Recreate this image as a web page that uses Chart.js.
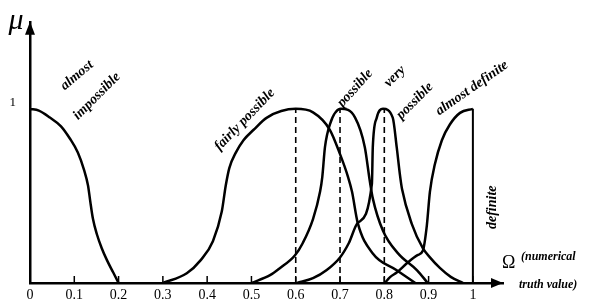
<!DOCTYPE html>
<html>
<head>
<meta charset="utf-8">
<script src="https://cdn.jsdelivr.net/npm/chart.js@4/dist/chart.umd.min.js"></script>
<style>
  html, body { margin: 0; padding: 0; background: #fff; }
  #c { display: block; }
</style>
</head>
<body>
<canvas id="c" width="593" height="306"></canvas>
<script>
// ---- data ----
const xTicks = [0, 0.1, 0.2, 0.3, 0.4, 0.5, 0.6, 0.7, 0.8, 0.9, 1];
const xTickLabels = ['0', '0.1', '0.2', '0.3', '0.4', '0.5', '0.6', '0.7', '0.8', '0.9', '1'];
const yTicks = [1];
const yTickLabels = ['1'];

const almostImpossibleX = [0, 0.02, 0.045, 0.07, 0.09, 0.108, 0.122, 0.131, 0.136, 0.142, 0.151, 0.162, 0.174, 0.188, 0.2];
const almostImpossibleY = [1, 0.99, 0.95, 0.9, 0.83, 0.75, 0.65, 0.56, 0.47, 0.37, 0.28, 0.2, 0.13, 0.06, 0];

const fairlyPossibleX = [0.3, 0.354, 0.385, 0.413, 0.433, 0.442, 0.45, 0.465, 0.482, 0.505, 0.535, 0.6, 0.639, 0.677, 0.7, 0.718, 0.727, 0.74, 0.774, 0.828, 0.87];
const fairlyPossibleY = [0, 0.056, 0.13, 0.24, 0.41, 0.56, 0.66, 0.75, 0.82, 0.88, 0.95, 1, 0.98, 0.88, 0.74, 0.61, 0.525, 0.345, 0.17, 0.073, 0];

const possibleX = [0.5, 0.542, 0.564, 0.598, 0.616, 0.639, 0.655, 0.66, 0.666, 0.677, 0.702, 0.734, 0.756, 0.767, 0.774, 0.797, 0.831, 0.874, 0.898];
const possibleY = [0, 0.045, 0.085, 0.158, 0.23, 0.367, 0.525, 0.61, 0.78, 0.91, 1, 0.95, 0.78, 0.59, 0.486, 0.3, 0.17, 0.073, 0];

const veryPossibleX = [0.603, 0.639, 0.67, 0.7, 0.72, 0.74, 0.772, 0.774, 0.783, 0.797, 0.819, 0.828, 0.835, 0.84, 0.862, 0.887, 0.903, 0.926, 0.95, 0.978];
const veryPossibleY = [0, 0.028, 0.075, 0.147, 0.23, 0.345, 0.57, 0.78, 0.95, 1, 0.95, 0.78, 0.627, 0.54, 0.34, 0.2, 0.147, 0.085, 0.035, 0];

const almostDefiniteX = [0.801, 0.813, 0.828, 0.851, 0.875, 0.887, 0.896, 0.903, 0.914, 0.93, 0.948, 0.971, 1];
const almostDefiniteY = [0, 0.034, 0.06, 0.113, 0.16, 0.185, 0.33, 0.525, 0.68, 0.82, 0.91, 0.977, 1];

const definiteX = [1, 1];
const definiteY = [0, 1];

const dashedAt = [0.6, 0.7, 0.8];
const dashedY = [0, 1];

const curveLabels = ['almost', 'impossible', 'fairly possible', 'possible', 'very', 'possible', 'almost definite', 'definite'];
const yAxisTitle = 'μ';
const xAxisTitle = ['Ω', '(numerical', 'truth value)'];

// ---- presentation ----
const labelPlacement = [
  { x: 0.106, y: 1.192, rot: -40 },
  { x: 0.151, y: 1.073, rot: -45 },
  { x: 0.485, y: 0.938, rot: -46 },
  { x: 0.734, y: 1.119, rot: -48 },
  { x: 0.824, y: 1.186, rot: -45 },
  { x: 0.869, y: 1.045, rot: -45 },
  { x: 0.998, y: 1.119, rot: -35 },
  { x: 1.043, y: 0.435, rot: -90 }
];

function pts(xs, ys) { return xs.map((x, i) => ({ x: x, y: ys[i] })); }

const curveStyle = {
  borderColor: '#000', borderWidth: 2.5, pointRadius: 0, fill: false,
  cubicInterpolationMode: 'monotone'
};
const datasets = [
  Object.assign({ label: 'almost impossible', data: pts(almostImpossibleX, almostImpossibleY) }, curveStyle),
  Object.assign({ label: 'fairly possible', data: pts(fairlyPossibleX, fairlyPossibleY) }, curveStyle),
  Object.assign({ label: 'possible', data: pts(possibleX, possibleY) }, curveStyle),
  Object.assign({ label: 'very possible', data: pts(veryPossibleX, veryPossibleY) }, curveStyle),
  Object.assign({ label: 'almost definite', data: pts(almostDefiniteX, almostDefiniteY) }, curveStyle),
  { label: 'definite', data: pts(definiteX, definiteY), borderColor: '#000', borderWidth: 2, pointRadius: 0, tension: 0 }
];
dashedAt.forEach(v => {
  datasets.push({ label: 'dash ' + v, data: pts([v, v], dashedY), borderColor: '#000', borderWidth: 1.6,
    borderDash: [6, 4], pointRadius: 0, tension: 0 });
});

const SERIF = '"Liberation Serif", "DejaVu Serif", serif';

const decorPlugin = {
  id: 'decor',
  afterDraw(chart) {
    const ctx = chart.ctx;
    const xs = chart.scales.x, ys = chart.scales.y;
    const ca = chart.chartArea;
    ctx.save();
    ctx.fillStyle = '#000';
    ctx.strokeStyle = '#000';
    // tick marks (pointing up into the plot)
    ctx.lineWidth = 1.5;
    xTicks.forEach(v => {
      if (v === 0) return;
      const px = xs.getPixelForValue(v);
      ctx.beginPath();
      ctx.moveTo(px, ca.bottom - 7);
      ctx.lineTo(px, ca.bottom + 1);
      ctx.stroke();
    });
    // y arrow
    const ax = xs.getPixelForValue(0);
    ctx.beginPath();
    ctx.moveTo(ax, ca.top);
    ctx.lineTo(ax - 5, ca.top + 13);
    ctx.lineTo(ax + 5, ca.top + 13);
    ctx.closePath();
    ctx.fill();
    // x arrow
    const ay = ys.getPixelForValue(0);
    ctx.beginPath();
    ctx.moveTo(ca.right, ay);
    ctx.lineTo(ca.right - 12, ay - 5);
    ctx.lineTo(ca.right - 12, ay + 5);
    ctx.closePath();
    ctx.fill();
    // curve labels
    ctx.font = 'bold italic 14px ' + SERIF;
    ctx.textAlign = 'center';
    ctx.textBaseline = 'middle';
    curveLabels.forEach((t, i) => {
      const p = labelPlacement[i];
      ctx.save();
      ctx.translate(xs.getPixelForValue(p.x), ys.getPixelForValue(p.y));
      ctx.rotate(p.rot * Math.PI / 180);
      ctx.fillText(t, 0, 0);
      ctx.restore();
    });
    // mu
    ctx.font = 'italic 30px ' + SERIF;
    ctx.textAlign = 'center';
    ctx.textBaseline = 'middle';
    ctx.fillText(yAxisTitle, ax - 14, ca.top - 1);
    // omega
    ctx.font = '18px ' + SERIF;
    ctx.textAlign = 'left';
    ctx.fillText(xAxisTitle[0], ca.right - 1, ay - 20);
    ctx.font = 'bold italic 12px ' + SERIF;
    ctx.fillText(xAxisTitle[1], ca.right + 18, ay - 26);
    ctx.fillText(xAxisTitle[2], ca.right + 16, ay + 2);
    ctx.restore();
  }
};

new Chart(document.getElementById('c'), {
  type: 'line',
  data: { datasets: datasets },
  options: {
    responsive: false,
    animation: false,
    devicePixelRatio: 1,
    layout: { padding: { top: 18, right: 90, left: 0, bottom: 0 } },
    plugins: { legend: { display: false }, tooltip: { enabled: false } },
    scales: {
      x: {
        type: 'linear', min: 0, max: 1.068,
        grid: { display: false, drawTicks: false },
        border: { display: true, color: '#000', width: 2.5 },
        ticks: {
          color: '#000', padding: 4, maxRotation: 0, autoSkip: false,
          font: { family: SERIF, size: 14 },
          callback: (v) => { const i = xTicks.indexOf(Math.round(v * 10) / 10); return i >= 0 ? xTickLabels[i] : ''; }
        },
        afterBuildTicks: (s) => { s.ticks = xTicks.map(v => ({ value: v })); },
        afterFit: (s) => { s.height = 23; }
      },
      y: {
        type: 'linear', min: 0, max: 1.5,
        grid: { display: false, drawTicks: false },
        border: { display: true, color: '#000', width: 2.5 },
        ticks: {
          color: '#000', padding: 14, labelOffset: -6,
          font: { family: SERIF, size: 13 },
          callback: (v) => { const i = yTicks.indexOf(v); return i >= 0 ? yTickLabels[i] : ''; }
        },
        afterBuildTicks: (s) => { s.ticks = yTicks.map(v => ({ value: v })); },
        afterFit: (s) => { s.width = 30; }
      }
    }
  },
  plugins: [decorPlugin]
});
</script>
</body>
</html>
